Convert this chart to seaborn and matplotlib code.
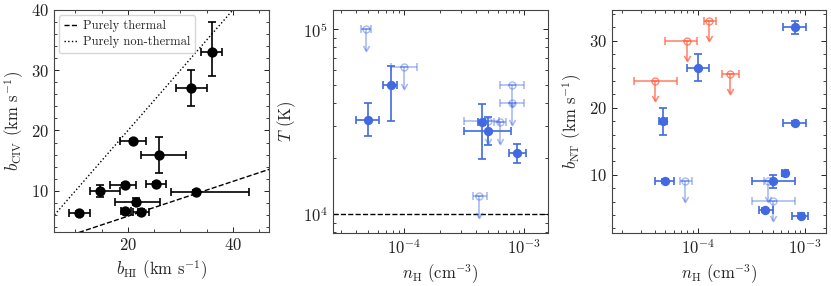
import numpy as np
import matplotlib
matplotlib.use("Agg")
import matplotlib.pyplot as plt
import seaborn as sns
from matplotlib.path import Path
from matplotlib.ticker import AutoMinorLocator, LogLocator, NullFormatter
from matplotlib.markers import CARETDOWNBASE

# ---------------- data ----------------
# Left panel: b_CIV vs b_HI
bHI = [36.0, 32.0, 21.0, 26.0, 25.4, 19.5, 14.6, 33.0, 21.6, 10.7, 19.5, 22.4]
bHI_lo = [34.0, 29.2, 18.4, 22.4, 23.4, 16.5, 12.7, 28.3, 17.5, 8.8, 18.6, 21.0]
bHI_hi = [38.0, 35.1, 23.5, 31.1, 27.3, 21.5, 18.4, 43.0, 26.2, 12.7, 20.5, 24.0]
bCIV = [33.0, 27.0, 18.3, 16.0, 11.2, 11.0, 10.0, 9.8, 8.2, 6.3, 6.7, 6.5]
bCIV_lo = [29.0, 24.0, 18.0, 13.0, 10.9, 10.7, 9.0, 9.5, 7.6, 6.0, 6.4, 6.0]
bCIV_hi = [38.0, 30.0, 18.6, 19.0, 11.5, 11.3, 11.0, 10.1, 8.8, 6.6, 7.0, 7.0]
line_x = [0.0, 60.0]

# Middle panel: T vs n_H (measurements)
mid_n = [4.95e-5, 7.7e-5, 4.44e-4, 5.0e-4, 8.75e-4]
mid_n_lo = [3.95e-5, 6.6e-5, 4.15e-4, 3.16e-4, 7.5e-4]
mid_n_hi = [6.2e-5, 8.7e-5, 4.75e-4, 7.8e-4, 1.03e-3]
mid_T = [32400, 50000, 31400, 28000, 21300]
mid_T_lo = [26300, 31700, 19900, 23500, 18900]
mid_T_hi = [39800, 63000, 39500, 33700, 23900]
# Middle panel: upper limits
mid_ul_n = [4.77e-5, 1.0e-4, 7.94e-4, 7.94e-4, 5.0e-4, 6.27e-4, 4.2e-4]
mid_ul_n_lo = [4.35e-5, 7.8e-5, 6.3e-4, 6.3e-4, 3.16e-4, 5.6e-4, 3.75e-4]
mid_ul_n_hi = [5.25e-5, 1.27e-4, 1.0e-3, 1.0e-3, 6.2e-4, 7.1e-4, 4.9e-4]
mid_ul_T = [1.0e5, 62800, 50000, 39800, 31700, 31400, 12600]
T_floor = 1.0e4

# Right panel: b_NT vs n_H (measurements)
r_n = [8.07e-4, 1.0e-4, 4.77e-5, 8.07e-4, 5.0e-5, 6.52e-4, 5.08e-4, 4.25e-4, 9.12e-4]
r_n_lo = [6.3e-4, 7.95e-5, 4.4e-5, 6.3e-4, 4.05e-5, 6.1e-4, 3.2e-4, 3.74e-4, 7.6e-4]
r_n_hi = [1.02e-3, 1.28e-4, 5.2e-5, 1.02e-3, 6.07e-5, 6.95e-4, 8.07e-4, 5.08e-4, 1.07e-3]
r_b = [32.0, 26.0, 18.0, 17.7, 9.0, 10.2, 9.0, 4.8, 3.9]
r_b_lo = [31.0, 24.0, 16.0, 17.4, 8.7, 9.8, 8.0, 4.5, 3.5]
r_b_hi = [33.0, 28.0, 20.0, 18.0, 9.3, 10.6, 10.0, 5.1, 4.3]
# Right panel: upper limits (orange)
o_n = [1.29e-4, 7.96e-5, 4.04e-5, 2.01e-4]
o_n_lo = [1.15e-4, 5.0e-5, 2.55e-5, 1.68e-4]
o_n_hi = [1.49e-4, 9.9e-5, 6.4e-5, 2.45e-4]
o_b = [33.0, 30.0, 24.0, 25.0]
# Right panel: upper limits (light blue)
p_n = [7.68e-5, 4.5e-4, 5.0e-4]
p_n_lo = [6.9e-5, 4.2e-4, 3.2e-4]
p_n_hi = [8.85e-5, 4.8e-4, 8.07e-4]
p_b = [9.0, 9.0, 6.1]

# ---------------- style ----------------
sns.set_theme(style="ticks")
plt.rcParams.update({
    "font.family": ["cmr10", "DejaVu Serif"],
    "mathtext.fontset": "cm",
    "axes.formatter.use_mathtext": True,
    "axes.unicode_minus": False,
    "font.size": 12,
    "axes.labelsize": 12,
    "xtick.labelsize": 12,
    "ytick.labelsize": 12,
    "xtick.direction": "in",
    "ytick.direction": "in",
    "xtick.top": True,
    "ytick.right": True,
    "xtick.minor.visible": True,
    "ytick.minor.visible": True,
    "xtick.major.size": 3.5,
    "ytick.major.size": 3.5,
    "xtick.minor.size": 2.0,
    "ytick.minor.size": 2.0,
    "xtick.major.width": 0.7,
    "ytick.major.width": 0.7,
    "xtick.minor.width": 0.6,
    "ytick.minor.width": 0.6,
    "axes.linewidth": 0.8,
    "axes.edgecolor": "#444444",
    "xtick.color": "#222222",
    "ytick.color": "#222222",
})

BLUE = "#4169e1"
ORANGE = "tomato"
VHEAD = Path([(-0.5, 0.9), (0.0, 0.0), (0.5, 0.9)], [Path.MOVETO, Path.LINETO, Path.LINETO])

fig = plt.figure(figsize=(8.31, 2.86), dpi=100)
W, H = 831.0, 286.0
ax1 = fig.add_axes([54 / W, (H - 232) / H, 215 / W, 222 / H])
ax2 = fig.add_axes([333 / W, (H - 233) / H, 215 / W, 223 / H])
ax3 = fig.add_axes([612 / W, (H - 233) / H, 214 / W, 223 / H])


def asym(v, lo, hi):
    v = np.asarray(v, float)
    return np.vstack([v - np.asarray(lo, float), np.asarray(hi, float) - v])


def open_arrows(container, color, alpha):
    _, caplines, _ = container.lines
    for cl in caplines:
        if cl.get_marker() == CARETDOWNBASE:
            cl.set_marker(VHEAD)
            cl.set_markersize(8)
            cl.set_markerfacecolor("none")
            cl.set_markeredgecolor(color)
            cl.set_markeredgewidth(1.2)
            cl.set_alpha(alpha)


# ---------------- left panel ----------------
lx = np.asarray(line_x)
ax1.plot(lx, lx / np.sqrt(12.0), ls="--", color="black", lw=1.0, label="Purely thermal")
ax1.plot(lx, lx, ls=":", color="black", lw=1.0, label="Purely non-thermal")
ax1.errorbar(bHI, bCIV, xerr=asym(bHI, bHI_lo, bHI_hi), yerr=asym(bCIV, bCIV_lo, bCIV_hi),
             fmt="none", ecolor="black", elinewidth=1.2, capsize=3, capthick=1.2, zorder=3)
sns.scatterplot(x=bHI, y=bCIV, ax=ax1, color="black", s=55, edgecolor="black",
                linewidth=0, zorder=4, legend=False)
ax1.set_xlim(5.9, 46.9)
ax1.set_ylim(3.15, 40)
ax1.set_xticks([20, 40])
ax1.set_yticks([10, 20, 30, 40])
ax1.xaxis.set_minor_locator(AutoMinorLocator(4))
ax1.yaxis.set_minor_locator(AutoMinorLocator(5))
ax1.set_xlabel(r"$b_{\rm HI}$ (km s$^{-1}$)")
ax1.set_ylabel(r"$b_{\rm CIV}$ (km s$^{-1}$)")
ax1.legend(loc="upper left", fontsize=9, handlelength=1.0, frameon=True, fancybox=True,
           framealpha=0.8, borderpad=0.4, labelspacing=0.3, handletextpad=0.5,
           borderaxespad=0.4)

# ---------------- middle panel ----------------
ax2.set_xscale("log")
ax2.set_yscale("log")
ax2.axhline(T_floor, ls="--", color="black", lw=1.0, zorder=1)
ul_T = np.asarray(mid_ul_T, float)
c = ax2.errorbar(mid_ul_n, ul_T, xerr=asym(mid_ul_n, mid_ul_n_lo, mid_ul_n_hi),
                 yerr=ul_T * (1 - 10 ** -0.12), uplims=True,
                 fmt="o", ms=5, mfc="none", mec=BLUE, color=BLUE, ecolor=BLUE, alpha=0.45,
                 elinewidth=1.2, capsize=3, capthick=1.2, zorder=2)
open_arrows(c, BLUE, 0.45)
ax2.errorbar(mid_n, mid_T, xerr=asym(mid_n, mid_n_lo, mid_n_hi), yerr=asym(mid_T, mid_T_lo, mid_T_hi),
             fmt="none", ecolor=BLUE, elinewidth=1.2, capsize=3, capthick=1.2, zorder=3)
sns.scatterplot(x=mid_n, y=mid_T, ax=ax2, color=BLUE, s=45, linewidth=0, zorder=4, legend=False)
ax2.set_xlim(2.55e-5, 1.58e-3)
ax2.set_ylim(7.9e3, 1.27e5)
ax2.set_xlabel(r"$n_{\rm H}$ (cm$^{-3}$)")
ax2.set_ylabel(r"$T$ (K)")
for axis in (ax2.xaxis, ax2.yaxis):
    axis.set_major_locator(LogLocator(base=10))
    axis.set_minor_locator(LogLocator(base=10, subs=np.arange(2, 10)))
    axis.set_minor_formatter(NullFormatter())

# ---------------- right panel ----------------
ax3.set_xscale("log")
c = ax3.errorbar(p_n, p_b, xerr=asym(p_n, p_n_lo, p_n_hi), yerr=3.0, uplims=True,
                 fmt="o", ms=5, mfc="none", mec=BLUE, color=BLUE, ecolor=BLUE, alpha=0.45,
                 elinewidth=1.2, capsize=3, capthick=1.2, zorder=2)
open_arrows(c, BLUE, 0.45)
c = ax3.errorbar(o_n, o_b, xerr=asym(o_n, o_n_lo, o_n_hi), yerr=3.0, uplims=True,
                 fmt="o", ms=5, mfc="none", mec=ORANGE, color=ORANGE, ecolor=ORANGE, alpha=0.75,
                 elinewidth=1.2, capsize=3, capthick=1.2, zorder=2)
open_arrows(c, ORANGE, 0.75)
ax3.errorbar(r_n, r_b, xerr=asym(r_n, r_n_lo, r_n_hi), yerr=asym(r_b, r_b_lo, r_b_hi),
             fmt="none", ecolor=BLUE, elinewidth=1.2, capsize=3, capthick=1.2, zorder=3)
sns.scatterplot(x=r_n, y=r_b, ax=ax3, color=BLUE, s=45, linewidth=0, zorder=4, legend=False)
ax3.set_xlim(1.6e-5, 1.57e-3)
ax3.set_ylim(1.3, 34.6)
ax3.set_yticks([10, 20, 30])
ax3.yaxis.set_minor_locator(AutoMinorLocator(5))
ax3.xaxis.set_major_locator(LogLocator(base=10))
ax3.xaxis.set_minor_locator(LogLocator(base=10, subs=np.arange(2, 10)))
ax3.xaxis.set_minor_formatter(NullFormatter())
ax3.set_xlabel(r"$n_{\rm H}$ (cm$^{-3}$)")
ax3.set_ylabel(r"$b_{\rm NT}$ (km s$^{-1}$)")

fig.savefig("out.png", dpi=100)
